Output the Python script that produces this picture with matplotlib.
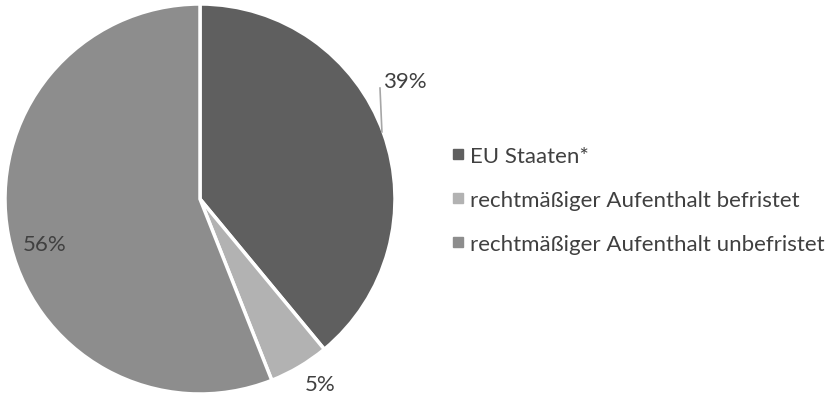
import numpy as np
import matplotlib.pyplot as plt
from matplotlib.lines import Line2D

labels = ["EU Staaten*", "rechtmäßiger Aufenthalt befristet", "rechtmäßiger Aufenthalt unbefristet"]
shares = [39, 5, 56]
colors = ["#5f5f5f", "#b2b2b2", "#8d8d8d"]
pct_labels = ["39%", "5%", "56%"]

plt.rcParams['font.family'] = ['Lato', 'DejaVu Sans']
text_color = "#404040"

fig = plt.figure(figsize=(8.38, 4.02), dpi=100)
# square axes for the pie, centred at pixel (200, 200), radius 195
ax = fig.add_axes([5 / 838, 7 / 402, 390 / 838, 390 / 402])

wedges, _ = ax.pie(shares, colors=colors, startangle=90, counterclock=False,
                   radius=1, wedgeprops=dict(edgecolor="white", linewidth=2.5))
ax.set_xlim(-1, 1)
ax.set_ylim(-1, 1)
ax.set_aspect("equal")
ax.axis("off")

# data labels
label_pos = [(1.05, 0.605), (0.615, -0.95), (-0.795, -0.23)]
for txt, (x, y) in zip(pct_labels, label_pos):
    ax.text(x, y, txt, ha="center", va="center", fontsize=16, color=text_color)
# leader line for 39%
ax.plot([0.933, 0.923], [0.344, 0.569], color="#a6a6a6", lw=1.2, clip_on=False)

handles = [Line2D([], [], marker="s", ls="", color=c, markersize=6.5) for c in colors]
leg = fig.legend(handles, labels, loc="center left", bbox_to_anchor=(449 / 838, 0.5),
                 frameon=False, fontsize=16, handletextpad=0.15, labelspacing=1.08,
                 handlelength=0.8, borderpad=0, borderaxespad=0)
for t in leg.get_texts():
    t.set_color(text_color)

fig.savefig("out.png", dpi=100)
